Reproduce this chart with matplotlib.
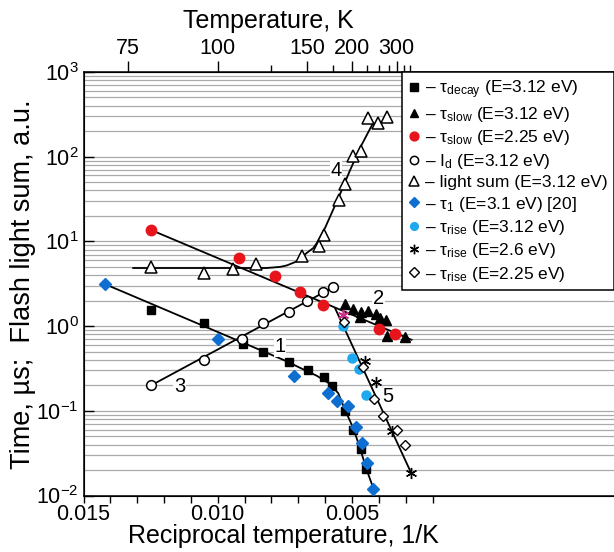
import numpy as np
import matplotlib
matplotlib.use('Agg')
import matplotlib.pyplot as plt
from matplotlib.ticker import FixedLocator, NullFormatter, LogLocator

plt.rcParams['font.family'] = 'Liberation Sans'
plt.rcParams['mathtext.fontset'] = 'custom'
plt.rcParams['mathtext.rm'] = 'Liberation Sans'
plt.rcParams['mathtext.it'] = 'Liberation Sans:italic'

# 1 - tau_decay (E=3.12 eV), black squares
decay_x = [0.01249, 0.01051, 0.00905, 0.00833, 0.00735, 0.00665, 0.00604,
           0.00574, 0.00526, 0.00495, 0.00468, 0.00446]
decay_y = [1.56, 1.08, 0.614, 0.50, 0.373, 0.30, 0.253, 0.197, 0.100, 0.0594,
           0.0358, 0.0204]

# tau_slow (E=3.12 eV), black triangles
slow312_x = [0.00526, 0.00496, 0.00466, 0.00440, 0.00470, 0.00411, 0.00396,
             0.00373, 0.00370, 0.00303]
slow312_y = [1.81, 1.60, 1.48, 1.50, 1.29, 1.40, 1.25, 1.17, 0.767, 0.748]

# tau_slow (E=2.25 eV), red circles
slow225_x = [0.01250, 0.00922, 0.00786, 0.00692, 0.00609, 0.00401, 0.00340]
slow225_y = [13.7, 6.30, 3.86, 2.53, 1.79, 0.93, 0.80]

# I_d (E=3.12 eV), open circles
id_x = [0.01249, 0.01051, 0.00909, 0.00833, 0.00735, 0.00666, 0.00607, 0.00571]
id_y = [0.199, 0.40, 0.70, 1.08, 1.48, 1.99, 2.51, 2.86]

# light sum (E=3.12 eV), open triangles
lsum_x = [0.01250, 0.01051, 0.00942, 0.00859, 0.00685, 0.00624, 0.00604,
          0.00550, 0.00526, 0.00495, 0.00466, 0.00440, 0.00403, 0.00370]
lsum_y = [4.98, 4.23, 4.72, 5.45, 6.78, 8.89, 12.0, 31.1, 47.6, 101, 118,
          286, 253, 298]

# tau_1 (E=3.1 eV) [20], blue diamonds
tau1_x = [0.01420, 0.00998, 0.00716, 0.00591, 0.00557, 0.00516, 0.00484,
          0.00464, 0.00445, 0.00421]
tau1_y = [3.13, 0.713, 0.259, 0.164, 0.132, 0.114, 0.065, 0.042, 0.024, 0.012]

# tau_rise (E=3.12 eV), light blue circles
rise312_x = [0.00535, 0.00501, 0.00472, 0.00447]
rise312_y = [1.01, 0.422, 0.31, 0.152]

# tau_rise (E=2.6 eV), asterisks (first one drawn magenta)
rise26_x = [0.00532, 0.00453, 0.00412, 0.00350, 0.00280]
rise26_y = [1.335, 0.386, 0.217, 0.0575, 0.0186]

# tau_rise (E=2.25 eV), open diamonds
rise225_x = [0.00529, 0.00458, 0.00418, 0.00383, 0.00334, 0.00304]
rise225_y = [1.11, 0.333, 0.136, 0.088, 0.0594, 0.040]

# fitted curves 1..5
fit1_x = [0.01420, 0.00756, 0.00631, 0.00582, 0.00551, 0.00526, 0.00495,
          0.00470, 0.00445, 0.00418]
fit1_y = [3.13, 0.40, 0.259, 0.208, 0.161, 0.1025, 0.0623, 0.0361, 0.020,
          0.0116]
fit2_x = [0.01250, 0.00278]
fit2_y = [13.7, 0.689]
fit3_x = [0.01249, 0.00571]
fit3_y = [0.199, 2.86]
fit4_x = [0.01315, 0.00818, 0.00768, 0.00743, 0.00706, 0.00669, 0.00644,
          0.00631, 0.00600, 0.00570, 0.00540, 0.00510, 0.00470, 0.00421]
fit4_y = [4.85, 4.85, 5.0, 5.2, 5.8, 7.29, 8.35, 9.57, 14.5, 23.7, 39.0,
          66.0, 127, 251]
fit5_x = [0.00563, 0.00280]
fit5_y = [1.63, 0.0186]

curve_labels = ['1', '2', '3', '4', '5']
curve_label_x = [0.00768, 0.00401, 0.01143, 0.00560, 0.00365]
curve_label_y = [0.574, 2.14, 0.193, 69, 0.147]

temp_major = [75, 100, 150, 200, 300]
temp_minor = [125, 175, 225, 250, 275, 325, 350]
recip_major = [0.015, 0.010, 0.005]
recip_minor = [0.014, 0.013, 0.012, 0.011, 0.009, 0.008, 0.007, 0.006,
               0.004, 0.003, 0.002]

red = '#e8141c'
blue = '#0f6fd1'
lightblue = '#1ea8ee'

fig = plt.figure(figsize=(6.14, 5.52), dpi=100)
ax = fig.add_axes([83.5 / 614, 56.5 / 552, 530.5 / 614, 423.5 / 552])
ax.set_yscale('log')
ax.set_xlim(0.015, -0.00476)
ax.set_ylim(1e-2, 1e3)

ax.yaxis.set_minor_locator(LogLocator(base=10, subs=np.arange(2, 10)))
ax.grid(True, axis='y', which='both', color='#aaaaaa', lw=0.9, zorder=0)
ax.set_axisbelow(True)

lw = 1.3
for fx, fy in [(fit1_x, fit1_y), (fit2_x, fit2_y), (fit3_x, fit3_y),
               (fit4_x, fit4_y), (fit5_x, fit5_y)]:
    ax.plot(fx, fy, color='black', lw=lw, zorder=2)

h1, = ax.plot(decay_x, decay_y, 's', color='black', ms=6, ls='none', zorder=3)
h2, = ax.plot(slow312_x, slow312_y, '^', color='black', ms=7.5, ls='none', zorder=3)
h3, = ax.plot(slow225_x, slow225_y, 'o', color=red, ms=7.5, ls='none', zorder=3)
h4, = ax.plot(id_x, id_y, 'o', mfc='white', mec='black', mew=1.1, ms=7,
              ls='none', zorder=3)
h5, = ax.plot(lsum_x, lsum_y, '^', mfc='white', mec='black', mew=1.1, ms=8,
              ls='none', zorder=3)
h6, = ax.plot(tau1_x, tau1_y, 'D', color=blue, ms=6.5, ls='none', zorder=3)
h7, = ax.plot(rise312_x, rise312_y, 'o', color=lightblue, ms=6.5, ls='none', zorder=3)
h8, = ax.plot(rise26_x[1:], rise26_y[1:], marker=(6, 2, 0), color='black',
              mew=1.0, ms=8, ls='none', zorder=4)
ax.plot(rise26_x[:1], rise26_y[:1], marker=(6, 2, 0), color='#d0308c',
        mew=1.2, ms=8, ls='none', zorder=4)
h9, = ax.plot(rise225_x, rise225_y, 'D', mfc='white', mec='black', mew=1.0,
              ms=5.5, ls='none', zorder=4)

for t, tx, ty in zip(curve_labels, curve_label_x, curve_label_y):
    ax.text(tx, ty, t, fontsize=14.5, ha='center', va='center', zorder=5,
            bbox=dict(facecolor='white', edgecolor='none', pad=0.5))

ax.xaxis.set_major_locator(FixedLocator(recip_major))
ax.xaxis.set_minor_locator(FixedLocator(recip_minor))
ax.set_xticklabels(['0.015', '0.010', '0.005'])
ax.tick_params(axis='x', which='both', direction='out', length=5, width=1,
               labelsize=15.5, pad=1)
ax.tick_params(axis='y', which='major', direction='in', length=7, width=1,
               labelsize=15.5)
ax.tick_params(axis='y', which='minor', length=0)
ax.tick_params(top=False, right=False)
ax.spines['right'].set_visible(False)
for s in ['left', 'bottom', 'top']:
    ax.spines[s].set_linewidth(1.1)

ax.set_xlabel('Reciprocal temperature, 1/K', fontsize=18)
ax.xaxis.set_label_coords(0.376, -0.068)
ax.set_ylabel('Time, µs;  Flash light sum, a.u.', fontsize=19.5)
ax.yaxis.set_label_coords(-0.09, 0.5)

ax2 = ax.twiny()
ax2.set_xlim(ax.get_xlim())
ax2.xaxis.set_major_locator(FixedLocator([1.0 / t for t in temp_major]))
ax2.xaxis.set_minor_locator(FixedLocator([1.0 / t for t in temp_minor]))
ax2.set_xticklabels([str(t) for t in temp_major])
ax2.xaxis.set_minor_formatter(NullFormatter())
ax2.tick_params(axis='x', which='major', direction='out', length=8, width=1,
                labelsize=15.5, pad=1)
ax2.tick_params(axis='x', which='minor', direction='out', length=5, width=1)
ax2.spines['right'].set_visible(False)
ax2.set_xlabel('Temperature, K', fontsize=18)
ax2.xaxis.set_label_coords(0.348, 1.103)

labels = [
    '– τ$_{\\rm decay}$ (E=3.12 eV)',
    '– τ$_{\\rm slow}$ (E=3.12 eV)',
    '– τ$_{\\rm slow}$ (E=2.25 eV)',
    '– I$_{\\rm d}$ (E=3.12 eV)',
    '– light sum (E=3.12 eV)',
    '– τ$_1$ (E=3.1 eV) [20]',
    '– τ$_{\\rm rise}$ (E=3.12 eV)',
    '– τ$_{\\rm rise}$ (E=2.6 eV)',
    '– τ$_{\\rm rise}$ (E=2.25 eV)',
]
leg = ax2.legend([h1, h2, h3, h4, h5, h6, h7, h8, h9], labels,
                 loc='upper right', bbox_to_anchor=(1.0, 1.0),
                 borderaxespad=0, fontsize=12.5, frameon=True, fancybox=False,
                 edgecolor='black', framealpha=1, handlelength=0.7,
                 handletextpad=0.3, labelspacing=0.25, borderpad=0.35,
                 markerscale=0.85)
leg.get_frame().set_linewidth(1.1)

fig.savefig('out.png', dpi=100)
